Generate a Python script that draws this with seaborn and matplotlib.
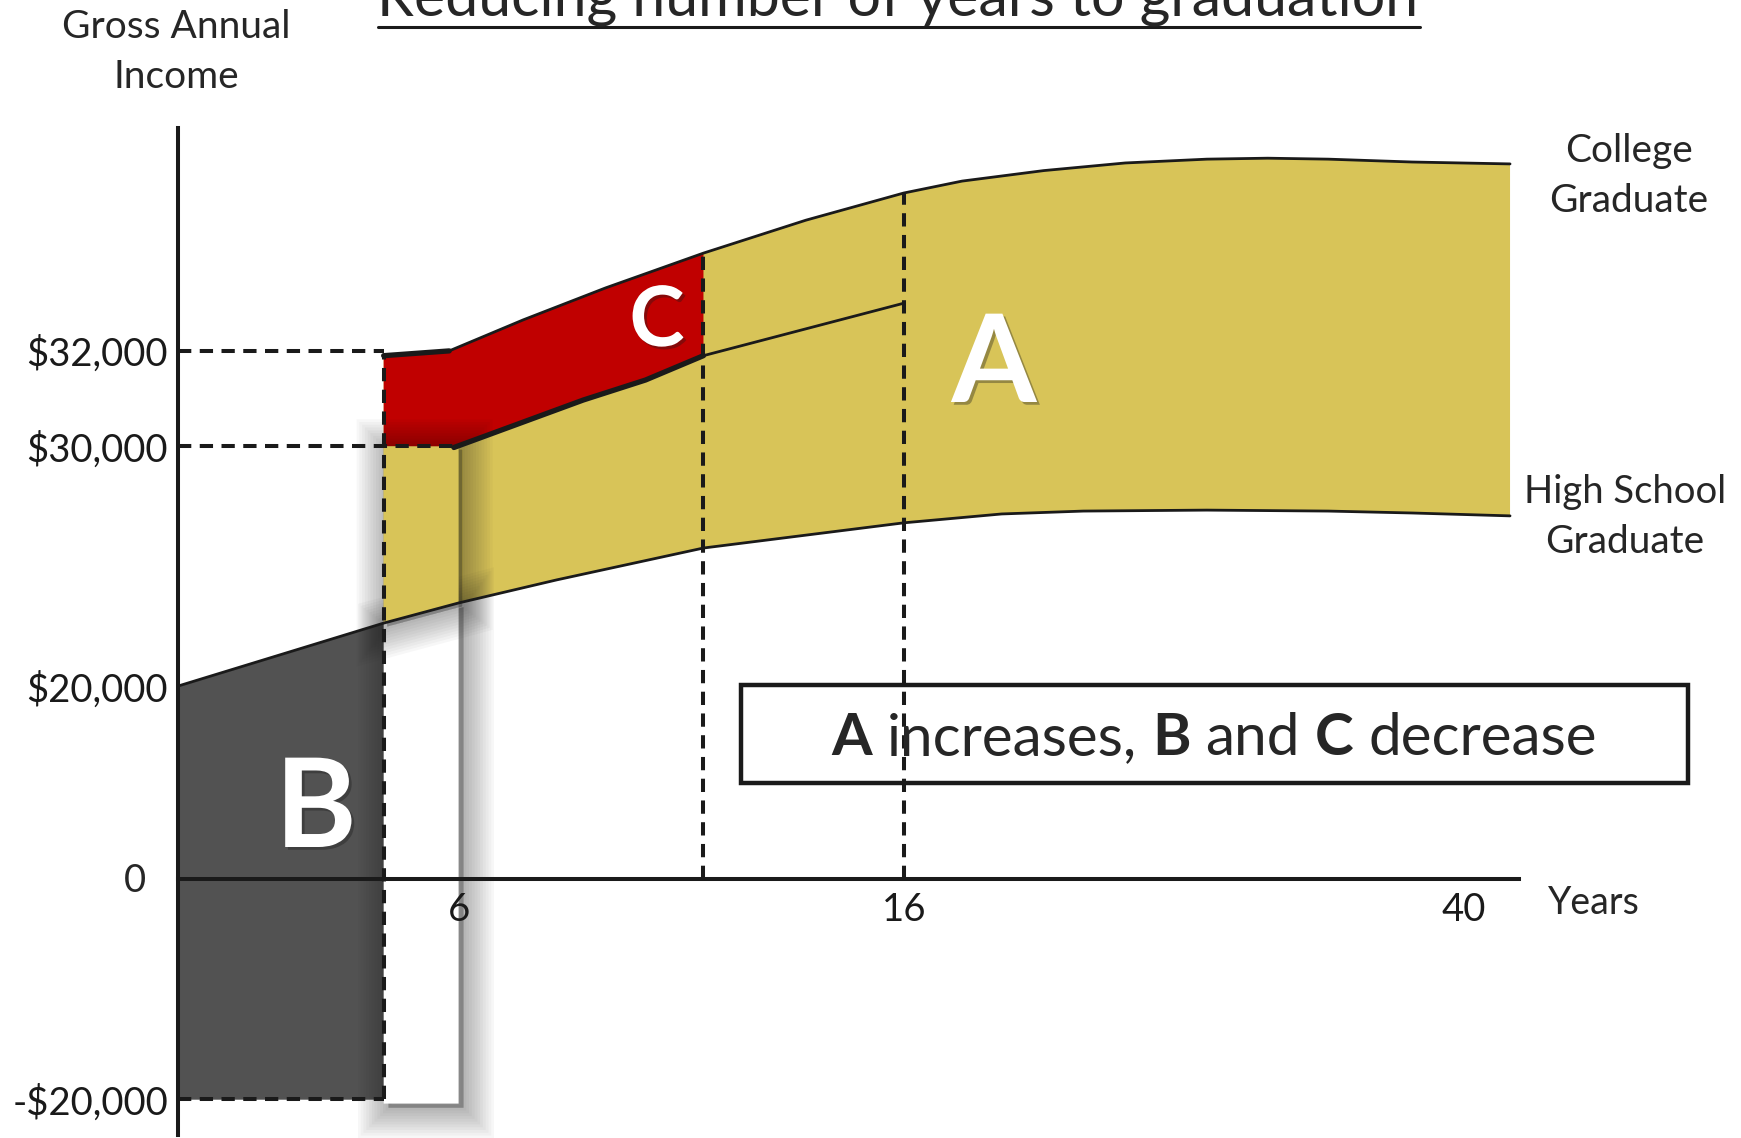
import numpy as np
import matplotlib
matplotlib.use("Agg")
import matplotlib.pyplot as plt
import seaborn as sns
from matplotlib import patheffects as pe
from matplotlib.patches import Rectangle
from matplotlib.lines import Line2D

# ---------------- data (schematic) ----------------
hs_years = [0, 4.4, 6, 8.2, 11.5, 16, 20.2, 23.7, 29, 34.2, 37.8, 42]
hs_income = [20000, 22630, 23470, 24430, 25760, 26810, 27180, 27300, 27340, 27300, 27220, 27100]

college_years = [4.4, 5.8, 7.45, 9.3, 11.5, 13.8, 16, 18.5, 22, 25.5, 29, 31.6, 34.2, 37.8, 42]
college_income = [31900, 32000, 32650, 33320, 34050, 34740, 35310, 35560, 35780, 35940,
                  36020, 36040, 36020, 35960, 35920]

shifted_years = [5.9, 8.8, 10.2, 11.5, 16]
shifted_income = [29950, 30970, 31390, 31900, 33000]

grad_new = 4.4          # graduation after reduced years
grad_old = 6.0          # original graduation
c_end = 11.5            # end of region C
career_mid = 16
axis_end = 42.4
debt = -20000
block_bottom = -20400
start_college = 32000
start_shifted = 30000

y_ticks = [-20000, 20000, 30000, 32000]
y_tick_labels = ["-$20,000", "$20,000", "$30,000", "$32,000"]
x_ticks = [6, 16, 40]
x_tick_labels = ["6", "16", "40"]

YELLOW = "#D8C458"
RED = "#C00000"
DARK = "#525252"

# ---------------- figure ----------------
W, H = 1741, 1138
sns.set_theme(style="white")
plt.rcParams["font.family"] = ["Lato", "DejaVu Sans"]

fig = plt.figure(figsize=(W / 100, H / 100), dpi=100)
fig.patch.set_facecolor("white")
AX_LEFT = 177.6
ax = fig.add_axes([AX_LEFT / W, 0, 1 - AX_LEFT / W, 1])
ax.set_facecolor("white")

# schematic (piecewise-linear) axes, as in the original drawing
xk_years = np.array([-100, 0, 6, 16, 40, 200.0])
xk_px = np.array([177.6 - 100 * 46.83, 177.6, 458.6, 903.8, 1463.4, 1463.4 + 160 * 23.32])
yk_d = np.array([-200000, -20000, 0, 20000, 30000, 32000, 200000.0])
yk_px = np.array([1099.2 + 180 * 10.99, 1099.2, 879.4, 686.2, 446.3, 350.9, 350.9 - 168 * 47.7])


def fx(v):
    return np.interp(v, xk_years, xk_px)


def ix(p):
    return np.interp(p, xk_px, xk_years)


def fy(v):
    return np.interp(v, yk_d, -yk_px)


def iy(p):
    return np.interp(p, -yk_px, yk_d)


ax.set_xscale("function", functions=(fx, ix))
ax.set_yscale("function", functions=(fy, iy))
ax.set_xlim(0, float(ix(W)))
ax.set_ylim(float(iy(-H)), float(iy(0)))

hx = np.array(hs_years, float)
hy = np.array(hs_income, float)
cx = np.array(college_years, float)
cy = np.array(college_income, float)
sx = np.array(shifted_years, float)
sy = np.array(shifted_income, float)

# B region
mB = hx <= grad_new
ax.fill_between(hx[mB], debt, hy[mB], color=DARK, lw=0, zorder=1)

# A region (between college and high-school curves)
mA = hx >= grad_new
ax.fill(np.r_[cx, hx[mA][::-1]], np.r_[cy, hy[mA][::-1]], color=YELLOW, lw=0, zorder=1)

# C region
mC = cx <= c_end
mS = sx <= c_end
ax.fill(np.r_[cx[mC], sx[mS][::-1], grad_new],
        np.r_[cy[mC], sy[mS][::-1], start_shifted],
        color=RED, lw=0, zorder=2)


# moved block with soft shadow
def shadow_effects(offset=(2.5, -2.5)):
    effs = []
    for w in range(44, 0, -4):
        effs.append(pe.SimplePatchShadow(offset=offset, shadow_rgbFace="k", alpha=0.032,
                                         linewidth=w, foreground="k"))
    effs.append(pe.Normal())
    return effs


h_new = hy[hx == grad_new][0]
h_old = hy[hx == grad_old][0]
white_block = ax.fill([grad_new, grad_old, grad_old, grad_new],
                      [h_new, h_old, block_bottom, block_bottom],
                      color="white", lw=0, zorder=3)[0]
white_block.set_path_effects(shadow_effects((3.5, -3)))
yellow_block = ax.fill([grad_new, grad_old, grad_old, grad_new],
                       [start_shifted, start_shifted, h_old, h_new],
                       color=YELLOW, lw=0, zorder=4)[0]
yellow_block.set_path_effects(shadow_effects((2.5, -2.5)))

# curves
sns.lineplot(x=hs_years, y=hs_income, ax=ax, color="k", lw=2.0, zorder=6)
sns.lineplot(x=college_years, y=college_income, ax=ax, color="k", lw=2.0, zorder=6)
sns.lineplot(x=shifted_years, y=shifted_income, ax=ax, color="k", lw=2.0, zorder=6)
sns.lineplot(x=list(sx[mS]), y=list(sy[mS]), ax=ax, color="k", lw=3.8, zorder=6)
sns.lineplot(x=list(cx[:2]), y=list(cy[:2]), ax=ax, color="k", lw=3.8, zorder=6)

# dashed guide lines
dash = dict(color="k", lw=2.9, ls=(0, (3.3, 2.1)), zorder=7)
ax.plot([0, grad_new], [start_college, start_college], **dash)
ax.plot([0, sx[0]], [start_shifted, start_shifted], **dash)
ax.plot([0, grad_new], [debt, debt], **dash)
ax.plot([grad_new, grad_new], [debt, cy[0]], **dash)
ax.plot([c_end, c_end], [0, cy[cx == c_end][0]], **dash)
ax.plot([career_mid, career_mid], [0, cy[cx == career_mid][0]], **dash)

# axes lines (spines)
for s in ["top", "right"]:
    ax.spines[s].set_visible(False)
ax.spines["bottom"].set_position(("data", 0))
ax.spines["bottom"].set_bounds(0, axis_end)
ax.spines["left"].set_bounds(float(iy(-1135)), float(iy(-128)))
for s in ["bottom", "left"]:
    ax.spines[s].set_color("k")
    ax.spines[s].set_linewidth(2.9)
    ax.spines[s].set_zorder(8)

ax.set_yticks(y_ticks)
ax.set_yticklabels(y_tick_labels)
ax.set_xticks(x_ticks)
ax.set_xticklabels(x_tick_labels)
ax.minorticks_off()
ax.tick_params(axis="both", length=0, labelsize=27.5, colors="k")
ax.tick_params(axis="y", pad=7)
ax.tick_params(axis="x", pad=9)
ax.xaxis.set_zorder(12)
ax.set_xlabel("")
ax.set_ylabel("")


def fxp(px):
    return px / W


def fyp(py):
    return 1 - py / H


# text labels
fig.text(fxp(135), fyp(892), "0", fontsize=27.5, ha="center", va="baseline")
fig.text(fxp(1594), fyp(914), "Years", fontsize=27, ha="center", va="baseline")
fig.text(fxp(176), fyp(38), "Gross Annual", fontsize=28, ha="center", va="baseline")
fig.text(fxp(176), fyp(88), "Income", fontsize=28, ha="center", va="baseline")
fig.text(fxp(1629), fyp(162), "College", fontsize=28, ha="center", va="baseline")
fig.text(fxp(1629), fyp(212), "Graduate", fontsize=28, ha="center", va="baseline")
fig.text(fxp(1625), fyp(503), "High School", fontsize=27.5, ha="center", va="baseline")
fig.text(fxp(1625), fyp(553), "Graduate", fontsize=28, ha="center", va="baseline")

letter_fx = [pe.withSimplePatchShadow(offset=(2, -2), shadow_rgbFace="k", alpha=0.35)]
fig.text(fxp(657), fyp(346), "C", fontsize=60, weight="bold", color="white",
         ha="center", va="baseline", path_effects=letter_fx, zorder=9)
fig.text(fxp(994), fyp(402), "A", fontsize=88, weight="bold", color="white",
         ha="center", va="baseline", path_effects=letter_fx, zorder=9)
fig.text(fxp(316), fyp(847), "B", fontsize=89, weight="bold", color="white",
         ha="center", va="baseline", path_effects=letter_fx, zorder=9)

renderer = fig.canvas.get_renderer()


def text_width(s, size, weight="normal"):
    t = fig.text(0, 0, s, fontsize=size, weight=weight)
    w = t.get_window_extent(renderer).width
    t.remove()
    return w


# title (cut off at the top, underlined)
title = "Reducing number of years to graduation"
tsize = 40 * 1042 / text_width(title, 40)
fig.text(fxp(898), fyp(16), title, fontsize=tsize, ha="center", va="baseline")
fig.add_artist(Line2D([fxp(378), fxp(1420)], [fyp(27), fyp(27)], color="k", lw=2.2))

# boxed statement
fig.add_artist(Rectangle((fxp(740.6), fyp(782.8)), (1687.6 - 740.6) / W, (782.8 - 685) / H,
                         transform=fig.transFigure, fill=False, ec="k", lw=3.2, zorder=10))
pieces = [("A", "bold"), ("increases,", "normal"), ("B", "bold"), ("and", "normal"),
          ("C", "bold"), ("decrease", "normal")]
base = 40
space = text_width("x x", base) - text_width("xx", base)
total = sum(text_width(p, base, w) for p, w in pieces) + space * (len(pieces) - 1)
bsize = base * 766 / total
space = text_width("x x", bsize) - text_width("xx", bsize)
widths = [text_width(p, bsize, w) for p, w in pieces]
total = sum(widths) + space * (len(pieces) - 1)
xcur = 1214 - total / 2
for (p, w), wd in zip(pieces, widths):
    fig.text(fxp(xcur), fyp(755), p, fontsize=bsize, weight=w, ha="left", va="baseline", zorder=11)
    xcur += wd + space

fig.savefig("out.png", dpi=100, facecolor="white")
